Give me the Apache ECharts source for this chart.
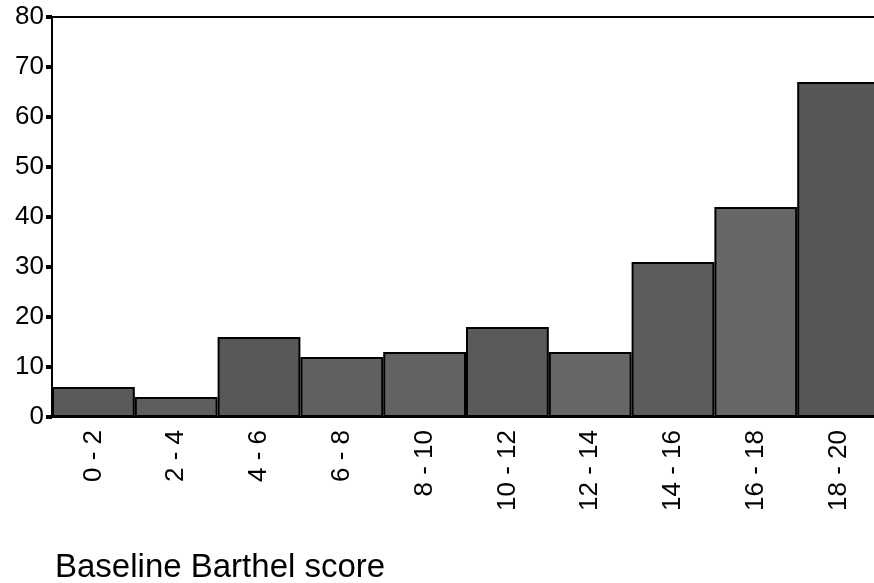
<!DOCTYPE html>
<html>
<head>
<meta charset="utf-8">
<script src="https://cdn.jsdelivr.net/npm/echarts@6/dist/echarts.min.js"></script>
<style>
html,body{margin:0;padding:0;background:#fff;}
#chart{width:874px;height:583px;}
</style>
</head>
<body>
<div id="chart"></div>
<script>
const categories = ["0 - 2","2 - 4","4 - 6","6 - 8","8 - 10","10 - 12","12 - 14","14 - 16","16 - 18","18 - 20"];
const counts = [6, 4, 16, 12, 13, 18, 13, 31, 42, 67];
const barShades = ["#5a5a5a","#5e5e5e","#585858","#606060","#626262","#5a5a5a","#676767","#5c5c5c","#666666","#575757"];
const yTicks = [0,10,20,30,40,50,60,70,80];
const xTitle = "Baseline Barthel score";

const chart = echarts.init(document.getElementById('chart'), null, {renderer:'canvas'});
chart.setOption({
  animation:false,
  backgroundColor:'#fff',
  grid:{left:52, top:17, right:-6, height:400, show:true, borderColor:'#000', borderWidth:2, backgroundColor:'#fff', containLabel:false, outerBoundsMode:'none'},
  title:{text:xTitle, left:50, top:546, textStyle:{fontFamily:'Liberation Sans, Arial, sans-serif', fontSize:33, fontWeight:'normal', color:'#000'}},
  xAxis:{
    type:'category', data:categories,
    axisLine:{lineStyle:{color:'#000', width:2}},
    axisTick:{alignWithLabel:true, length:7, lineStyle:{color:'#000', width:4}},
    axisLabel:{rotate:90, margin:13, fontFamily:'Liberation Sans, Arial, sans-serif', fontSize:26, color:'#000', interval:0}
  },
  yAxis:{
    type:'value', min:0, max:80, interval:10,
    axisLine:{show:true, lineStyle:{color:'#000', width:2}},
    axisTick:{show:true, length:6, lineStyle:{color:'#000', width:4}},
    splitLine:{show:false},
    axisLabel:{margin:8, fontFamily:'Liberation Sans, Arial, sans-serif', fontSize:26, color:'#000',
      formatter:function(v){return yTicks.indexOf(v)>=0 ? String(v) : '';}}
  },
  series:[{
    type:'bar', barCategoryGap:'0%',
    data:counts.map((v,i)=>({value:v, itemStyle:{color:barShades[i]}})),
    itemStyle:{borderColor:'#000', borderWidth:2}
  }]
});
</script>
</body>
</html>
